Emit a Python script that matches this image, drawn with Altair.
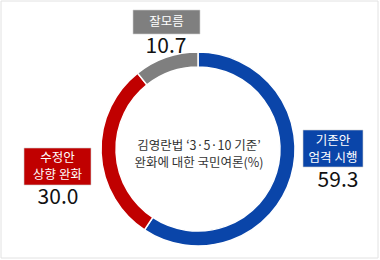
import altair as alt
import pandas as pd

categories = ["기존안 엄격 시행", "수정안 상향 완화", "잘모름"]
box_labels = ["기존안\n엄격 시행", "수정안\n상향 완화", "잘모름"]
values = [59.3, 30.0, 10.7]
colors = ["#0A45A9", "#C00000", "#7F7F7F"]
center_title = ["김영란법 ‘3·5·10 기준’", "완화에 대한 국민여론(%)"]

df = pd.DataFrame({"cat": categories, "box": box_labels, "val": values})
df["idx"] = range(len(df))

FONT = "Noto Sans CJK KR"
CX, CY = 198, 149

base = alt.Chart(df)

ring = base.mark_arc(outerRadius=97, innerRadius=82, stroke="white", strokeWidth=1.5).encode(
    theta=alt.Theta("val:Q", stack=True),
    order=alt.Order("idx:Q"),
    color=alt.Color("cat:N", scale=alt.Scale(domain=categories, range=colors), legend=None),
    x=alt.value(CX),
    y=alt.value(CY),
)

frame = base.mark_rect(fill=None, stroke="#E2E2E2", strokeWidth=1).encode(
    x=alt.value(1), x2=alt.value(378), y=alt.value(1), y2=alt.value(258)
).transform_filter(alt.datum.idx == 0)

center = alt.Chart(pd.DataFrame({"t": [center_title]})).mark_text(
    font=FONT, fontSize=12.5, color="#333333", lineHeight=17, baseline="middle", align="center"
).encode(text="t:N", x=alt.value(CX + 1), y=alt.value(146))

# label placement per category: (box x1, x2, y1, y2, first text line y, value x, value baseline y)
placement = {
    0: (303, 363, 130, 167, 141, 338, 187),
    1: (24, 91, 148, 185, 158, 58, 204),
    2: (133, 200, 10, 34, 22, 166, 53),
}

layers = [frame, ring, center]
for i, (bx1, bx2, by1, by2, ty, vx, vy) in placement.items():
    sub = base.transform_filter(alt.datum.idx == i)
    layers.append(sub.mark_rect(fill=colors[i], stroke="#D0D0D0", strokeWidth=0.6).encode(
        x=alt.value(bx1), x2=alt.value(bx2), y=alt.value(by1), y2=alt.value(by2)))
    layers.append(sub.mark_text(font=FONT, fontSize=12.5, color="white", lineBreak="\n",
                                lineHeight=16.5, baseline="middle", align="center").encode(
        text="box:N", x=alt.value((bx1 + bx2) / 2), y=alt.value(ty)))
    layers.append(sub.mark_text(font=FONT, fontSize=21, color="#111111",
                                baseline="alphabetic", align="center").encode(
        text=alt.Text("val:Q", format=".1f"), x=alt.value(vx), y=alt.value(vy)))

chart = alt.layer(*layers).properties(
    width=380, height=260, padding=0, autosize=alt.AutoSizeParams(type="none"),
    background="white"
).configure_view(stroke=None)

chart.save("out.html", embed_options={"renderer": "svg", "actions": False})
